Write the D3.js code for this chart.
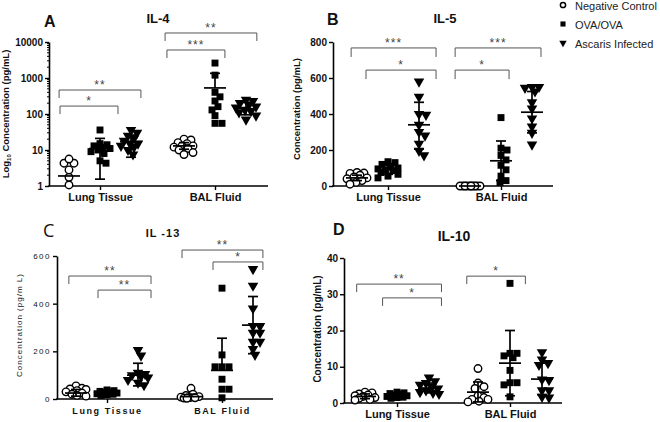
<!DOCTYPE html>
<html><head><meta charset="utf-8">
<script src="https://cdn.jsdelivr.net/npm/d3@7"></script>
<style>body{margin:0;background:#fff}svg{display:block}</style>
</head><body>
<svg id="c" width="660" height="422"></svg>
<script>
// ---------------- DATA ----------------
const categories = ["Lung Tissue", "BAL Fluid"];
const groups = ["Negative Control", "OVA/OVA", "Ascaris Infected"];

// IL-4 (pg/mL, log axis)
const il4Lung = [
  [1.07, 1.75, 2.8, 4.3, 4.3, 5.6],
  [36, 15, 14, 13, 12, 11, 10, 9, 8, 5, 4.3],
  [36, 30, 25, 21, 18, 15, 15, 13, 12, 10, 7.5]
];
const il4Bal = [
  [20, 19, 16, 15, 13, 13, 12, 11, 10, 8.5, 7.5],
  [2600, 1200, 400, 300, 230, 160, 130, 90, 55, 55],
  [250, 230, 200, 180, 160, 150, 130, 120, 110, 90, 70]
];
const il4Mean = [[1.9, 11, 17], [13, 530, 140]];
const il4Hi = [[null, 21, 26], [16, 1350, 210]];
const il4Lo = [[null, 1.55, 6.3], [10.5, null, 95]];
const il4Ticks = [1, 10, 100, 1000, 10000];

// IL-5
const il5Lung = [
  [75, 72, 70, 60, 50, 45, 40, 30, 20, 10],
  [135, 130, 120, 110, 100, 95, 90, 85, 75, 65, 55, 45],
  [580, 495, 400, 395, 340, 300, 280, 235, 195, 170]
];
const il5Bal = [
  [0, 0, 0, 0, 0, 0, 0, 0, 0, 0],
  [380, 210, 200, 170, 145, 115, 90, 55, 30, 20],
  [550, 550, 545, 525, 465, 430, 375, 330, 295, 230]
];
const il5Mean = [[45, 90, 340], [0, 140, 410]];
const il5Hi = [[60, 115, 465], [null, 250, 525]];
const il5Lo = [[30, 65, 205], [null, 30, 295]];
const il5Ticks = [0, 200, 400, 600, 800];

// IL-13
const il13Lung = [
  [55, 45, 42, 40, 35, 30, 25, 20, 15, 12],
  [38, 35, 32, 30, 28, 25, 22, 20, 18, 15],
  [205, 182, 110, 105, 100, 95, 90, 80, 68, 58]
];
const il13Bal = [
  [45, 20, 15, 10, 8, 6, 5, 4, 3],
  [465, 185, 135, 135, 135, 83, 41, 41, 5],
  [545, 475, 380, 306, 306, 278, 278, 240, 240, 210, 185]
];
const il13Mean = [[25, 25, 100], [10, 120, 310]];
const il13Hi = [[40, 33, 150], [20, 255, 430]];
const il13Lo = [[12, 18, 55], [null, null, 190]];
const il13Ticks = [0, 200, 400, 600];

// IL-10
const il10Lung = [
  [3, 2.8, 2.5, 2.2, 2, 1.8, 1.5, 1.3, 1, 0.8],
  [3, 2.8, 2.6, 2.4, 2.2, 2, 1.8, 1.6, 1.5, 1.3],
  [7, 6, 5.5, 5, 4.5, 4, 3.5, 3, 2.8, 2.5]
];
const il10Bal = [
  [9.5, 5.5, 4.5, 4, 2, 1.5, 1, 1, 0.5, 0.3],
  [33, 13.7, 13.7, 13, 12.5, 9, 5.6, 5.6, 5, 1.7],
  [14, 12, 11, 10.5, 6.5, 6.3, 3.5, 3.5, 1.7, 1.5]
];
const il10Mean = [[1.8, 2.1, 4], [3, 11, 6.6]];
const il10Hi = [[2.5, 2.6, 5.5], [5.8, 20, 11]];
const il10Lo = [[1.2, 1.6, 2.8], [0.3, 2, 2.3]];
const il10Ticks = [0, 10, 20, 30, 40];

// significance comparisons (category, level in data units, label)
const il4Sig = [
  {cat: 0, level: 464, label: "**"}, {cat: 0, level: 166, label: "*"},
  {cat: 1, level: 17800, label: "**"}, {cat: 1, level: 6000, label: "***"}
];
const il5Sig = [
  {cat: 0, level: 767, label: "***"}, {cat: 0, level: 644, label: "*"},
  {cat: 1, level: 767, label: "***"}, {cat: 1, level: 644, label: "*"}
];
const il13Sig = [
  {cat: 0, level: 516, label: "**"}, {cat: 0, level: 457, label: "**"},
  {cat: 1, level: 625, label: "**"}, {cat: 1, level: 575, label: "*"}
];
const il10Sig = [
  {cat: 0, level: 32.8, label: "**"}, {cat: 0, level: 29, label: "*"},
  {cat: 1, level: 35, label: "*"}
];

// ---------------- LAYOUT ----------------
const panels = [
  {letter: "A", title: "IL-4", log: true, dom: [1, 10000], ticks: il4Ticks,
   vals: [il4Lung, il4Bal], mean: il4Mean, hi: il4Hi, lo: il4Lo, sig: il4Sig,
   ylab: "Concentration (pg/mL)", sub: true,
   L: {x0: 49, x1: 268, y0: 186, y1: 42, cx: [100, 215], gw: 31,
       letter: [44, 27], title: [158, 23], ylab: [9, 114], catY: 186,
       br: [[-1.32, 1.32], [-1.29, 0.58], [-1.61, 1.35], [-1.55, 0.32]], tl: 8}},
  {letter: "B", title: "IL-5", log: false, dom: [0, 800], ticks: il5Ticks,
   vals: [il5Lung, il5Bal], mean: il5Mean, hi: il5Hi, lo: il5Lo, sig: il5Sig,
   ylab: "Concentration (pg/mL)",
   L: {x0: 333, x1: 553, y0: 186, y1: 42, cx: [388, 501], gw: 31,
       letter: [327, 25], title: [445, 23], ylab: [300, 109], catY: 186,
       br: [[-1.19, 1.55], [-0.71, 1.55], [-1.48, 1.29], [-1.48, 0.26]], tl: 9}},
  {letter: "C", title: "IL -13", log: false, dom: [0, 600], ticks: il13Ticks, alt: true,
   vals: [il13Lung, il13Bal], mean: il13Mean, hi: il13Hi, lo: il13Lo, sig: il13Sig,
   ylab: "Concentration (pg/m L)",
   L: {x0: 57, x1: 273, y0: 399, y1: 256, cx: [107, 222], gw: 31,
       letter: [43, 237], title: [163, 237], ylab: [21.5, 325], catY: 399,
       br: [[-1.23, 1.42], [-0.29, 1.42], [-1.29, 1.32], [-0.29, 1.32]], tl: 8}},
  {letter: "D", title: "IL-10", log: false, dom: [0, 40], ticks: il10Ticks,
   vals: [il10Lung, il10Bal], mean: il10Mean, hi: il10Hi, lo: il10Lo, sig: il10Sig,
   ylab: "Concentration (pg/mL)", big: true,
   L: {x0: 344, x1: 562, y0: 403, y1: 258, cx: [397, 510], gw: 32,
       letter: [333, 235], title: [454, 241], ylab: [321, 329], catY: 403,
       br: [[-1.26, 1.39], [-0.45, 1.39], [-1.35, 0.48]], tl: 8}}
];

const FONT = "Arial, 'Liberation Sans', sans-serif";
const svg = d3.select("#c").style("font-family", FONT);

const symCircle = d3.symbol(d3.symbolCircle, 44)();
const symSquare = d3.symbol(d3.symbolSquare, 48)();
const symTri = d3.symbol(d3.symbolTriangle, 48)();

function swarm(ys, diam, maxOff) {
  const idx = ys.map((y, i) => i).sort((a, b) => ys[a] - ys[b]);
  const placed = [], off = new Array(ys.length);
  const cands = [0];
  for (let k = 1; k <= maxOff; k++) cands.push(k, -k);
  for (const i of idx) {
    let best = 0, bestD = -1;
    for (const c of cands) {
      let md = Infinity;
      for (const p of placed) { const d = Math.hypot(c - p.x, ys[i] - p.y); if (d < md) md = d; }
      if (md >= diam) { best = c; bestD = md; break; }
      if (md > bestD) { bestD = md; best = c; }
    }
    off[i] = best; placed.push({x: best, y: ys[i]});
  }
  return off;
}

function drawMarker(sel, gi, x, y) {
  if (gi === 0) sel.append("path").attr("d", symCircle).attr("transform", `translate(${x},${y})`)
      .attr("fill", "#fff").attr("stroke", "#000").attr("stroke-width", 1.4);
  else if (gi === 1) sel.append("path").attr("d", symSquare).attr("transform", `translate(${x},${y})`).attr("fill", "#000");
  else sel.append("path").attr("d", symTri).attr("transform", `translate(${x},${y}) rotate(180)`).attr("fill", "#000");
}

panels.forEach(p => {
  const L = p.L;
  const g = svg.append("g");
  const y = (p.log ? d3.scaleLog() : d3.scaleLinear()).domain(p.dom).range([L.y0, L.y1]);
  const xc = d3.scalePoint().domain(categories).range(L.cx);
  const xg = d3.scaleLinear().domain([-1, 1]).range([-L.gw, L.gw]);
  const tickFont = p.alt ? "8px" : "10px";

  // y axis
  const ya = g.append("g").attr("transform", `translate(${L.x0},0)`)
    .call(d3.axisLeft(y).tickValues(p.ticks).tickSize(4).tickSizeOuter(0).tickPadding(2).tickFormat(d3.format("d")));
  ya.select(".domain").attr("stroke", "#000").attr("stroke-width", 1.6);
  ya.selectAll(".tick line").attr("stroke", "#000").attr("stroke-width", 1.4);
  ya.selectAll(".tick text").attr("fill", "#111").style("font-size", tickFont)
    .style("font-weight", p.alt ? "normal" : "bold").style("font-family", FONT)
    .style("letter-spacing", p.alt ? "1.5px" : null);
  if (p.log) {
    const minors = [];
    for (let e = 0; e < 4; e++) for (let k = 2; k <= 9; k++) minors.push(k * Math.pow(10, e));
    g.selectAll(".minor").data(minors).join("line").attr("x1", L.x0 - 2).attr("x2", L.x0)
      .attr("y1", d => y(d)).attr("y2", d => y(d)).attr("stroke", "#000").attr("stroke-width", 1);
  }

  // x axis
  g.append("line").attr("x1", L.x0 - 0.8).attr("x2", L.x1).attr("y1", L.y0).attr("y2", L.y0)
    .attr("stroke", "#000").attr("stroke-width", 1.6);
  const xa = g.append("g").attr("transform", `translate(0,${L.catY})`)
    .call(d3.axisBottom(xc).tickSize(4).tickPadding(p.alt ? 5 : 3));
  xa.select(".domain").remove();
  xa.selectAll(".tick line").attr("stroke", "#000").attr("stroke-width", 1.4);
  xa.selectAll(".tick text").attr("fill", "#111").style("font-family", FONT)
    .style("font-size", p.alt ? "9px" : "11px").style("font-weight", "bold")
    .style("letter-spacing", p.alt ? "1.6px" : null);

  // y label
  const yl = g.append("text").attr("transform", `translate(${L.ylab[0]},${L.ylab[1]}) rotate(-90)`)
    .attr("text-anchor", "middle").attr("fill", "#111")
    .style("font-size", p.alt ? "8px" : (p.big ? "10px" : "9.5px"))
    .style("font-weight", p.alt ? "normal" : "bold")
    .style("letter-spacing", p.alt ? "1px" : null);
  if (p.sub) {
    yl.append("tspan").text("Log");
    yl.append("tspan").text("10").style("font-size", "6px").attr("dy", 2);
    yl.append("tspan").text(" " + p.ylab).attr("dy", -2);
  } else yl.text(p.ylab);

  // letter & title
  g.append("text").attr("x", L.letter[0]).attr("y", L.letter[1]).text(p.letter)
    .style("font-size", p.alt ? "18px" : "16px").style("font-weight", p.alt ? "normal" : "bold")
    .style("font-family", p.alt ? "'Open Sans', sans-serif" : FONT).attr("fill", "#111");
  g.append("text").attr("x", L.title[0]).attr("y", L.title[1]).attr("text-anchor", "middle").text(p.title)
    .style("font-size", p.alt ? "11px" : (p.big ? "14px" : "13px")).style("font-weight", "bold")
    .style("letter-spacing", p.alt ? "1px" : null).attr("fill", "#111");

  // points
  const pts = g.append("g");
  categories.forEach((c, ci) => {
    groups.forEach((gr, gi) => {
      const vals = p.vals[ci][gi];
      const ys = vals.map(v => y(v));
      const off = swarm(ys, 6.2, 10);
      const cx = xc(c) + xg(gi - 1);
      vals.forEach((v, i) => drawMarker(pts, gi, cx + off[i], ys[i]));
    });
  });

  // mean and SD bars
  const eb = g.append("g").attr("stroke", "#000").attr("stroke-width", 1.7).attr("fill", "none");
  categories.forEach((c, ci) => {
    groups.forEach((gr, gi) => {
      const cx = xc(c) + xg(gi - 1);
      const m = p.mean[ci][gi], hi = p.hi[ci][gi], lo = p.lo[ci][gi];
      eb.append("line").attr("x1", cx - 11).attr("x2", cx + 11).attr("y1", y(m)).attr("y2", y(m));
      if (hi != null) {
        eb.append("line").attr("x1", cx).attr("x2", cx).attr("y1", y(m)).attr("y2", y(hi));
        eb.append("line").attr("x1", cx - 5).attr("x2", cx + 5).attr("y1", y(hi)).attr("y2", y(hi));
      }
      if (lo != null) {
        eb.append("line").attr("x1", cx).attr("x2", cx).attr("y1", y(m)).attr("y2", y(lo));
        eb.append("line").attr("x1", cx - 5).attr("x2", cx + 5).attr("y1", y(lo)).attr("y2", y(lo));
      }
    });
  });

  // significance brackets
  p.sig.forEach((s, k) => {
    const c = xc(categories[s.cat]);
    const xa1 = c + xg(L.br[k][0]), xa2 = c + xg(L.br[k][1]);
    const yy = y(s.level);
    g.append("path").attr("d", `M${xa1},${yy + L.tl}V${yy}H${xa2}V${yy + L.tl}`)
      .attr("fill", "none").attr("stroke", "#555").attr("stroke-width", 1);
    g.append("text").attr("x", (xa1 + xa2) / 2).attr("y", yy - 1).attr("text-anchor", "middle")
      .text(s.label).attr("fill", "#444").style("font-size", "12px")
      .style("letter-spacing", "1px");
  });
});

// legend
const lg = svg.append("g");
groups.forEach((gname, gi) => {
  const yy = 5 + gi * 19;
  const xx = 563;
  if (gi === 0) lg.append("circle").attr("cx", xx).attr("cy", yy).attr("r", 2.6)
      .attr("fill", "#fff").attr("stroke", "#000").attr("stroke-width", 1.5);
  else if (gi === 1) lg.append("path").attr("d", d3.symbol(d3.symbolSquare, 26)()).attr("transform", `translate(${xx},${yy})`);
  else lg.append("path").attr("d", d3.symbol(d3.symbolTriangle, 24)()).attr("transform", `translate(${xx},${yy}) rotate(180)`);
  lg.append("text").attr("x", 575).attr("y", yy + 4.5).text(gname)
    .style("font-size", "11px").attr("fill", "#222");
});
</script>
</body></html>
